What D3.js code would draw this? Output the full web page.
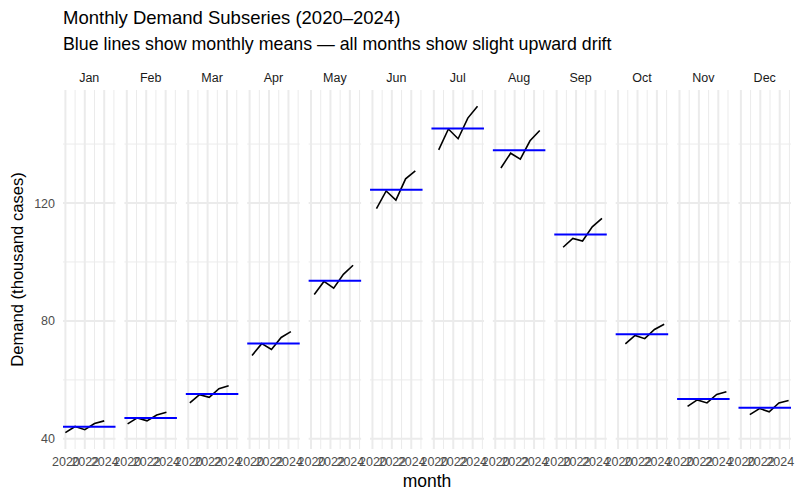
<!DOCTYPE html>
<html>
<head>
<meta charset="utf-8">
<script src="https://cdn.jsdelivr.net/npm/d3@7"></script>
<style>
  body { margin: 0; background: #fff; }
  svg { font-family: "Liberation Sans", Arial, sans-serif; }
</style>
</head>
<body>
<div id="chart"></div>
<script>
// subseries data, thousand cases, one row per calendar month (2020..2024)
const months = ['Jan', 'Feb', 'Mar', 'Apr', 'May', 'Jun', 'Jul', 'Aug', 'Sep', 'Oct', 'Nov', 'Dec'];
const years = [2020, 2021, 2022, 2023, 2024];
const demand = [
  [42.1, 44.2, 43.1, 45.2, 46.1],
  [45.1, 47.1, 46.1, 48.1, 49.0],
  [52.2, 55.0, 54.1, 57.0, 58.0],
  [68.3, 72.3, 70.3, 74.4, 76.4],
  [89.0, 93.4, 91.1, 95.8, 98.9],
  [118.1, 124.1, 121.0, 128.2, 130.9],
  [138.0, 145.1, 141.8, 148.8, 152.8],
  [131.9, 136.9, 134.9, 141.1, 144.6],
  [105.0, 108.0, 107.1, 111.9, 114.8],
  [72.2, 75.1, 74.0, 77.1, 78.9],
  [51.0, 53.2, 52.2, 55.1, 56.0],
  [48.2, 50.3, 49.2, 52.2, 53.0]
];
const xBreaks = [2020, 2022, 2024];
const xMinor = [2021, 2023, 2025];
const yBreaks = [40, 80, 120];
const yMinor = [60, 100, 140];

const width = 800, height = 500;
const margin = {top: 90, right: 9, bottom: 51, left: 63};
const innerW = width - margin.left - margin.right;
const innerH = height - margin.top - margin.bottom;

const svg = d3.select('#chart').append('svg')
  .attr('width', width)
  .attr('height', height);

// titles
svg.append('text')
  .attr('x', margin.left).attr('y', 24)
  .attr('font-size', 18.5).attr('fill', '#000')
  .text('Monthly Demand Subseries (2020\u20132024)');
svg.append('text')
  .attr('x', margin.left).attr('y', 50)
  .attr('font-size', 17.8).attr('fill', '#000')
  .text('Blue lines show monthly means \u2014 all months show slight upward drift');

const rows = [];
demand.forEach(function (vals, m) {
  vals.forEach(function (v, i) {
    rows.push({month: m, t: years[i] + m / 12, value: v});
  });
});

// shared scales, ggplot style 5% expansion
const tExt = [years[0], years[years.length - 1] + 11 / 12];
const tPad = (tExt[1] - tExt[0]) * 0.05;
const vExt = d3.extent(rows, function (d) { return d.value; });
const vPad = (vExt[1] - vExt[0]) * 0.05;

const panel = d3.scaleBand()
  .domain(d3.range(months.length))
  .range([0, innerW])
  .paddingInner(0.145);

const x = d3.scaleLinear()
  .domain([tExt[0] - tPad, tExt[1] + tPad])
  .range([0, panel.bandwidth()]);

const y = d3.scaleLinear()
  .domain([vExt[0] - vPad, vExt[1] + vPad])
  .range([innerH, 0]);

const g = svg.append('g')
  .attr('transform', `translate(${margin.left}, ${margin.top})`);

// y axis labels
const yAxis = g.append('g')
  .call(d3.axisLeft(y).tickValues(yBreaks).tickSize(0).tickPadding(8));
yAxis.select('.domain').remove();
yAxis.selectAll('text')
  .attr('font-size', 12.5).attr('fill', '#4d4d4d')
  .attr('font-family', '"Liberation Sans", Arial, sans-serif');

const line = d3.line()
  .x(function (d) { return x(d.t); })
  .y(function (d) { return y(d.value); });

const panels = g.selectAll('.panel')
  .data(months)
  .enter().append('g')
  .attr('class', 'panel')
  .attr('transform', function (d, i) { return `translate(${panel(i)}, 0)`; });

panels.each(function (name, m) {
  const p = d3.select(this);
  const bw = panel.bandwidth();

  // grid
  p.selectAll('.hminor').data(yMinor).enter().append('line')
    .attr('x1', 0).attr('x2', bw)
    .attr('y1', function (d) { return y(d); }).attr('y2', function (d) { return y(d); })
    .attr('stroke', '#ebebeb').attr('stroke-width', 1);
  p.selectAll('.vminor').data(xMinor).enter().append('line')
    .attr('y1', 0).attr('y2', innerH)
    .attr('x1', function (d) { return x(d); }).attr('x2', function (d) { return x(d); })
    .attr('stroke', '#ebebeb').attr('stroke-width', 1);
  p.selectAll('.hmajor').data(yBreaks).enter().append('line')
    .attr('x1', 0).attr('x2', bw)
    .attr('y1', function (d) { return y(d); }).attr('y2', function (d) { return y(d); })
    .attr('stroke', '#ebebeb').attr('stroke-width', 2);
  p.selectAll('.vmajor').data(xBreaks).enter().append('line')
    .attr('y1', 0).attr('y2', innerH)
    .attr('x1', function (d) { return x(d); }).attr('x2', function (d) { return x(d); })
    .attr('stroke', '#ebebeb').attr('stroke-width', 2);

  // strip label
  p.append('text')
    .attr('x', bw / 2).attr('y', -8)
    .attr('text-anchor', 'middle')
    .attr('font-size', 12.5).attr('fill', '#1a1a1a')
    .text(name);

  const data = rows.filter(function (d) { return d.month === m; });

  p.append('path')
    .datum(data)
    .attr('d', line)
    .attr('fill', 'none')
    .attr('stroke', '#000')
    .attr('stroke-width', 1.6);

  const mean = d3.mean(data, function (d) { return d.value; });
  p.append('line')
    .attr('x1', 0).attr('x2', bw)
    .attr('y1', y(mean)).attr('y2', y(mean))
    .attr('stroke', '#0000ff').attr('stroke-width', 2);

  // x axis labels
  const xAxis = p.append('g')
    .attr('transform', `translate(0, ${innerH})`)
    .call(d3.axisBottom(x).tickValues(xBreaks).tickFormat(d3.format('d')).tickSize(0).tickPadding(8));
  xAxis.select('.domain').remove();
  xAxis.selectAll('text')
    .attr('font-size', 12.5).attr('fill', '#4d4d4d')
    .attr('font-family', '"Liberation Sans", Arial, sans-serif');
});

// axis titles
svg.append('text')
  .attr('x', margin.left + innerW / 2).attr('y', 487)
  .attr('text-anchor', 'middle')
  .attr('font-size', 17.5).attr('fill', '#000')
  .text('month');
svg.append('text')
  .attr('transform', `translate(23, ${margin.top + innerH / 2}) rotate(-90)`)
  .attr('text-anchor', 'middle')
  .attr('font-size', 16.6).attr('fill', '#000')
  .text('Demand (thousand cases)');
</script>
</body>
</html>
